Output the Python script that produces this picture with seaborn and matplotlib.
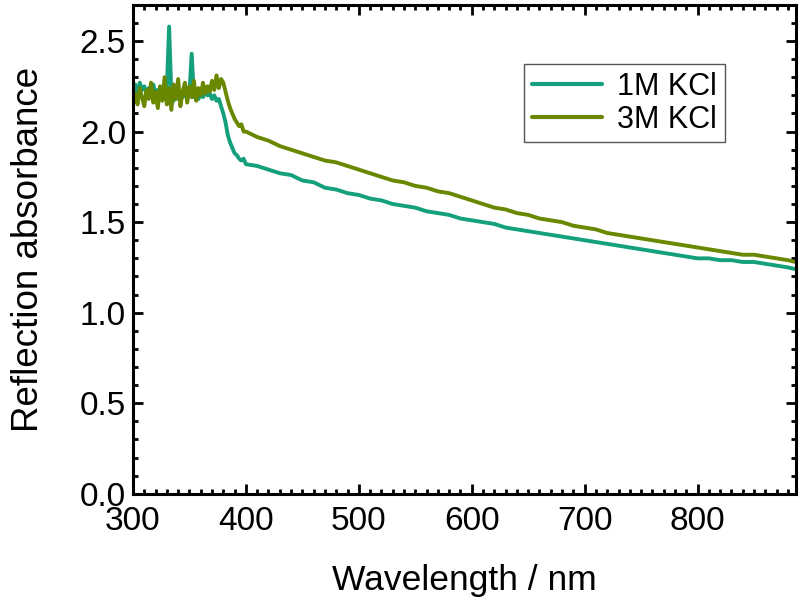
import numpy as np
import pandas as pd
import matplotlib
matplotlib.use('Agg')
import matplotlib.pyplot as plt
import seaborn as sns
from matplotlib.ticker import MultipleLocator

sns.set_style('ticks')
plt.rcParams['font.family'] = ['Liberation Sans', 'DejaVu Sans']
plt.rcParams['text.color'] = 'black'
plt.rcParams['axes.labelcolor'] = 'black'
plt.rcParams['xtick.color'] = 'black'
plt.rcParams['ytick.color'] = 'black'

# wavelength grid: 2 nm in the noisy UV part, 10 nm after
wl_uv = list(range(300, 401, 2))
wl_vis = list(range(410, 881, 10)) + [887]

kcl1_uv = [2.22, 2.26, 2.20, 2.27, 2.23, 2.25, 2.21, 2.24, 2.22, 2.26,
           2.20, 2.23, 2.19, 2.22, 2.18, 2.24, 2.58, 2.20, 2.17, 2.21,
           2.18, 2.22, 2.19, 2.23, 2.18, 2.21, 2.43, 2.19, 2.22, 2.18,
           2.21, 2.19, 2.22, 2.20, 2.21, 2.18, 2.20, 2.17, 2.18, 2.14,
           2.10, 2.05, 1.98, 1.94, 1.91, 1.88, 1.87, 1.85, 1.84, 1.85,
           1.82]
kcl1_vis = [1.81, 1.79, 1.77, 1.76, 1.73, 1.72, 1.69, 1.68, 1.66, 1.65,
            1.63, 1.62, 1.60, 1.59, 1.58, 1.56, 1.55, 1.54, 1.52, 1.51,
            1.50, 1.49, 1.47, 1.46, 1.45, 1.44, 1.43, 1.42, 1.41, 1.40,
            1.39, 1.38, 1.37, 1.36, 1.35, 1.34, 1.33, 1.32, 1.31, 1.30,
            1.30, 1.29, 1.29, 1.28, 1.28, 1.27, 1.26, 1.25, 1.24]

kcl3_uv = [2.17, 2.21, 2.15, 2.24, 2.19, 2.14, 2.23, 2.18, 2.27, 2.16,
           2.22, 2.13, 2.25, 2.17, 2.30, 2.15, 2.24, 2.12, 2.26, 2.18,
           2.29, 2.14, 2.22, 2.27, 2.16, 2.25, 2.19, 2.28, 2.17, 2.24,
           2.20, 2.27, 2.21, 2.25, 2.22, 2.28, 2.23, 2.31, 2.24, 2.29,
           2.27, 2.22, 2.17, 2.13, 2.10, 2.07, 2.05, 2.03, 2.04, 2.00,
           2.00]
kcl3_vis = [1.97, 1.95, 1.92, 1.90, 1.88, 1.86, 1.84, 1.83, 1.81, 1.79,
            1.77, 1.75, 1.73, 1.72, 1.70, 1.69, 1.67, 1.66, 1.64, 1.62,
            1.60, 1.58, 1.57, 1.55, 1.54, 1.52, 1.51, 1.50, 1.48, 1.47,
            1.46, 1.44, 1.43, 1.42, 1.41, 1.40, 1.39, 1.38, 1.37, 1.36,
            1.35, 1.34, 1.33, 1.32, 1.32, 1.31, 1.30, 1.29, 1.28]

labels = ['1M KCl', '3M KCl']
colors = {'1M KCl': '#14a07c', '3M KCl': '#6a8700'}

wl = wl_uv + wl_vis
df = pd.concat([
    pd.DataFrame({'wavelength': wl, 'absorbance': kcl1_uv + kcl1_vis, 'sample': labels[0]}),
    pd.DataFrame({'wavelength': wl, 'absorbance': kcl3_uv + kcl3_vis, 'sample': labels[1]}),
])

fig = plt.figure(figsize=(8.03, 6.0), dpi=100)
ax = fig.add_axes([0.1656, 0.177, 0.8254, 0.815])

sns.lineplot(data=df, x='wavelength', y='absorbance', hue='sample',
             palette=colors, linewidth=2.8, ax=ax, estimator=None, sort=False)

ax.set_xlim(300, 887)
ax.set_ylim(0, 2.7)
ax.xaxis.set_major_locator(MultipleLocator(100))
ax.xaxis.set_minor_locator(MultipleLocator(10))
ax.yaxis.set_major_locator(MultipleLocator(0.5))
ax.yaxis.set_minor_locator(MultipleLocator(0.1))
ax.yaxis.set_major_formatter(matplotlib.ticker.FormatStrFormatter('%.1f'))

for s in ax.spines.values():
    s.set_linewidth(2.2)
    s.set_color('black')
    s.set_visible(True)
ax.tick_params(which='both', direction='in', top=True, right=True, width=2.0)
ax.tick_params(which='major', length=7, labelsize=24)
ax.tick_params(which='minor', length=3.5)
ax.tick_params(axis='x', which='major', pad=9)
ax.tick_params(axis='y', which='major', pad=5)

ax.set_xlabel('Wavelength / nm', fontsize=25.5, labelpad=19)
ax.set_ylabel('Reflection absorbance', fontsize=26.5, labelpad=24)

leg = ax.legend(loc='upper left', bbox_to_anchor=(0.59, 0.879), fontsize=22,
                frameon=True, fancybox=False, framealpha=1, edgecolor='#555555',
                handlelength=2.3, handletextpad=0.5, borderpad=0.25,
                labelspacing=0.1, borderaxespad=0, title=None)
leg.get_frame().set_linewidth(1.0)
for line in leg.get_lines():
    line.set_linewidth(3)

fig.savefig('out.png', dpi=100)
